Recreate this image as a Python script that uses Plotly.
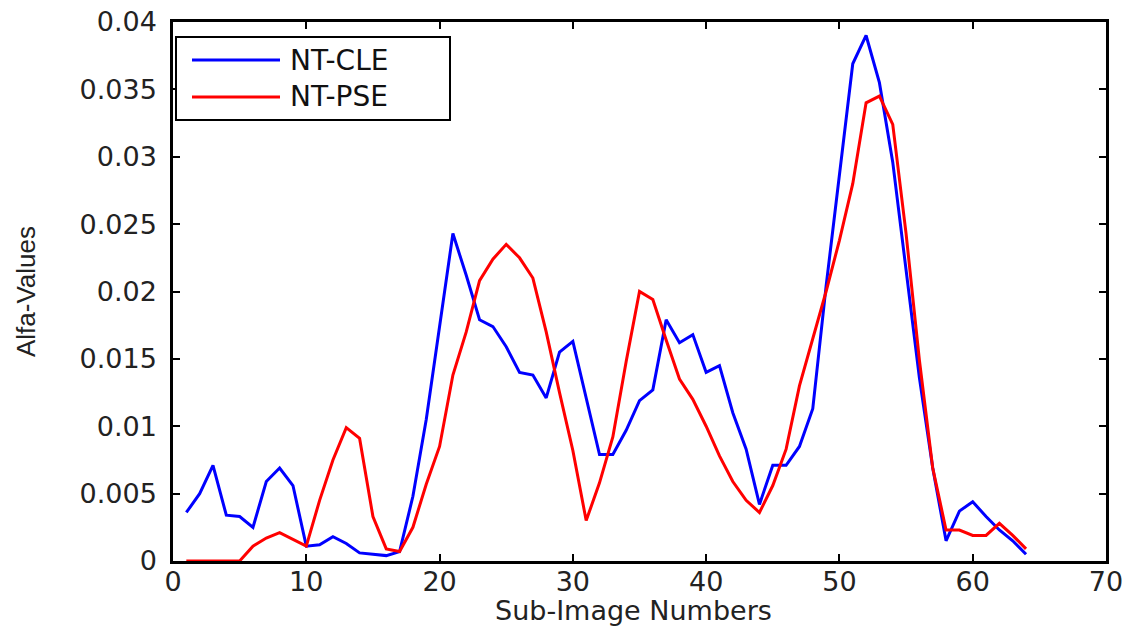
import plotly.graph_objects as go

x_index = list(range(1, 65))

series_names = ["NT-CLE", "NT-PSE"]

nt_cle = [0.0036, 0.0050, 0.0071, 0.0034, 0.0033, 0.0025, 0.0059, 0.0069, 0.0056, 0.0011,
          0.0012, 0.0018, 0.0013, 0.0006, 0.0005, 0.0004, 0.0007, 0.0048, 0.0105, 0.0175,
          0.0243, 0.0212, 0.0179, 0.0174, 0.0159, 0.0140, 0.0138, 0.0121, 0.0155, 0.0163,
          0.0120, 0.0079, 0.0079, 0.0097, 0.0119, 0.0127, 0.0179, 0.0162, 0.0168, 0.0140,
          0.0145, 0.0110, 0.0083, 0.0042, 0.0071, 0.0071, 0.0085, 0.0113, 0.0204, 0.0288,
          0.0369, 0.0390, 0.0355, 0.0296, 0.0216, 0.0136, 0.0069, 0.0015, 0.0037, 0.0044,
          0.0033, 0.0023, 0.0015, 0.0005]

nt_pse = [0.0000, 0.0000, 0.0000, 0.0000, 0.0000, 0.0011, 0.0017, 0.0021, 0.0016, 0.0011,
          0.0045, 0.0075, 0.0099, 0.0091, 0.0033, 0.0009, 0.0007, 0.0025, 0.0057, 0.0085,
          0.0138, 0.0170, 0.0208, 0.0224, 0.0235, 0.0225, 0.0210, 0.0170, 0.0125, 0.0082,
          0.0030, 0.0058, 0.0092, 0.0148, 0.0200, 0.0194, 0.0164, 0.0135, 0.0120, 0.0100,
          0.0078, 0.0059, 0.0045, 0.0036, 0.0056, 0.0083, 0.0130, 0.0165, 0.0200, 0.0238,
          0.0280, 0.0340, 0.0345, 0.0324, 0.0243, 0.0149, 0.0069, 0.0023, 0.0023, 0.0019,
          0.0019, 0.0028, 0.0019, 0.0009]

x_ticks = [0, 10, 20, 30, 40, 50, 60, 70]
y_ticks = [0, 0.005, 0.01, 0.015, 0.02, 0.025, 0.03, 0.035, 0.04]
y_tick_text = ["0", "0.005", "0.01", "0.015", "0.02", "0.025", "0.03", "0.035", "0.04"]
x_title = "Sub-Image Numbers"
y_title = "Alfa-Values"

colors = ["#0000ff", "#ff0000"]
text_color = "#222222"
wide_font = "DejaVu Sans, Verdana, Arial"

fig = go.Figure()
for name, vals, c in zip(series_names, [nt_cle, nt_pse], colors):
    fig.add_trace(go.Scatter(x=x_index, y=vals, mode="lines", name=name,
                             line=dict(color=c, width=3), showlegend=False))

W, H = 1132, 631
ml, mr, mt, mb = 173, 26, 22, 70
pw, ph = W - ml - mr, H - mt - mb

def px_x(p):
    return (p - ml) / pw

def px_y(p):
    return (H - mb - p) / ph

# Legend box (custom, to match the long legend lines)
fig.add_shape(type="rect", xref="paper", yref="paper",
              x0=px_x(176), x1=px_x(450), y0=px_y(120), y1=px_y(37),
              line=dict(color="black", width=2), fillcolor="white", layer="above")
for i, (name, c) in enumerate(zip(series_names, colors)):
    yy = 60 + i * 37
    fig.add_shape(type="line", xref="paper", yref="paper",
                  x0=px_x(192), x1=px_x(280), y0=px_y(yy), y1=px_y(yy),
                  line=dict(color=c, width=3), layer="above")
    fig.add_annotation(xref="paper", yref="paper", x=px_x(288), y=px_y(yy),
                       text=name, showarrow=False, xanchor="left", yanchor="middle",
                       font=dict(family=wide_font, size=28, color="#111"))

# X axis title placed below the tick labels
fig.add_annotation(xref="paper", yref="paper", x=px_x(633), y=px_y(610),
                   text=x_title, showarrow=False, xanchor="center", yanchor="middle",
                   font=dict(family=wide_font, size=27, color=text_color))

axis_common = dict(showline=True, linewidth=2.5, linecolor="black", mirror="ticks",
                   ticks="inside", ticklen=7, tickwidth=2, tickcolor="black",
                   showgrid=False, zeroline=False, automargin=False,
                   tickfont=dict(family=wide_font, size=27, color=text_color))

fig.update_layout(
    width=W, height=H,
    margin=dict(l=ml, r=mr, t=mt, b=mb),
    paper_bgcolor="white", plot_bgcolor="white",
    xaxis=dict(range=[0, 70], tickvals=x_ticks, ticklabelstandoff=-5,
               **axis_common),
    yaxis=dict(range=[0, 0.04], tickvals=y_ticks, ticktext=y_tick_text,
               ticklabelstandoff=8,
               title=dict(text=y_title, standoff=37,
                          font=dict(family="Liberation Sans, Arial", size=26, color=text_color)),
               **axis_common),
)

# Remove the browser's default 8px body margin so the figure fills the window.
fig.write_html("out.html", config={"displayModeBar": False},
               post_script="document.body.style.margin='0';document.body.style.overflow='hidden';")
